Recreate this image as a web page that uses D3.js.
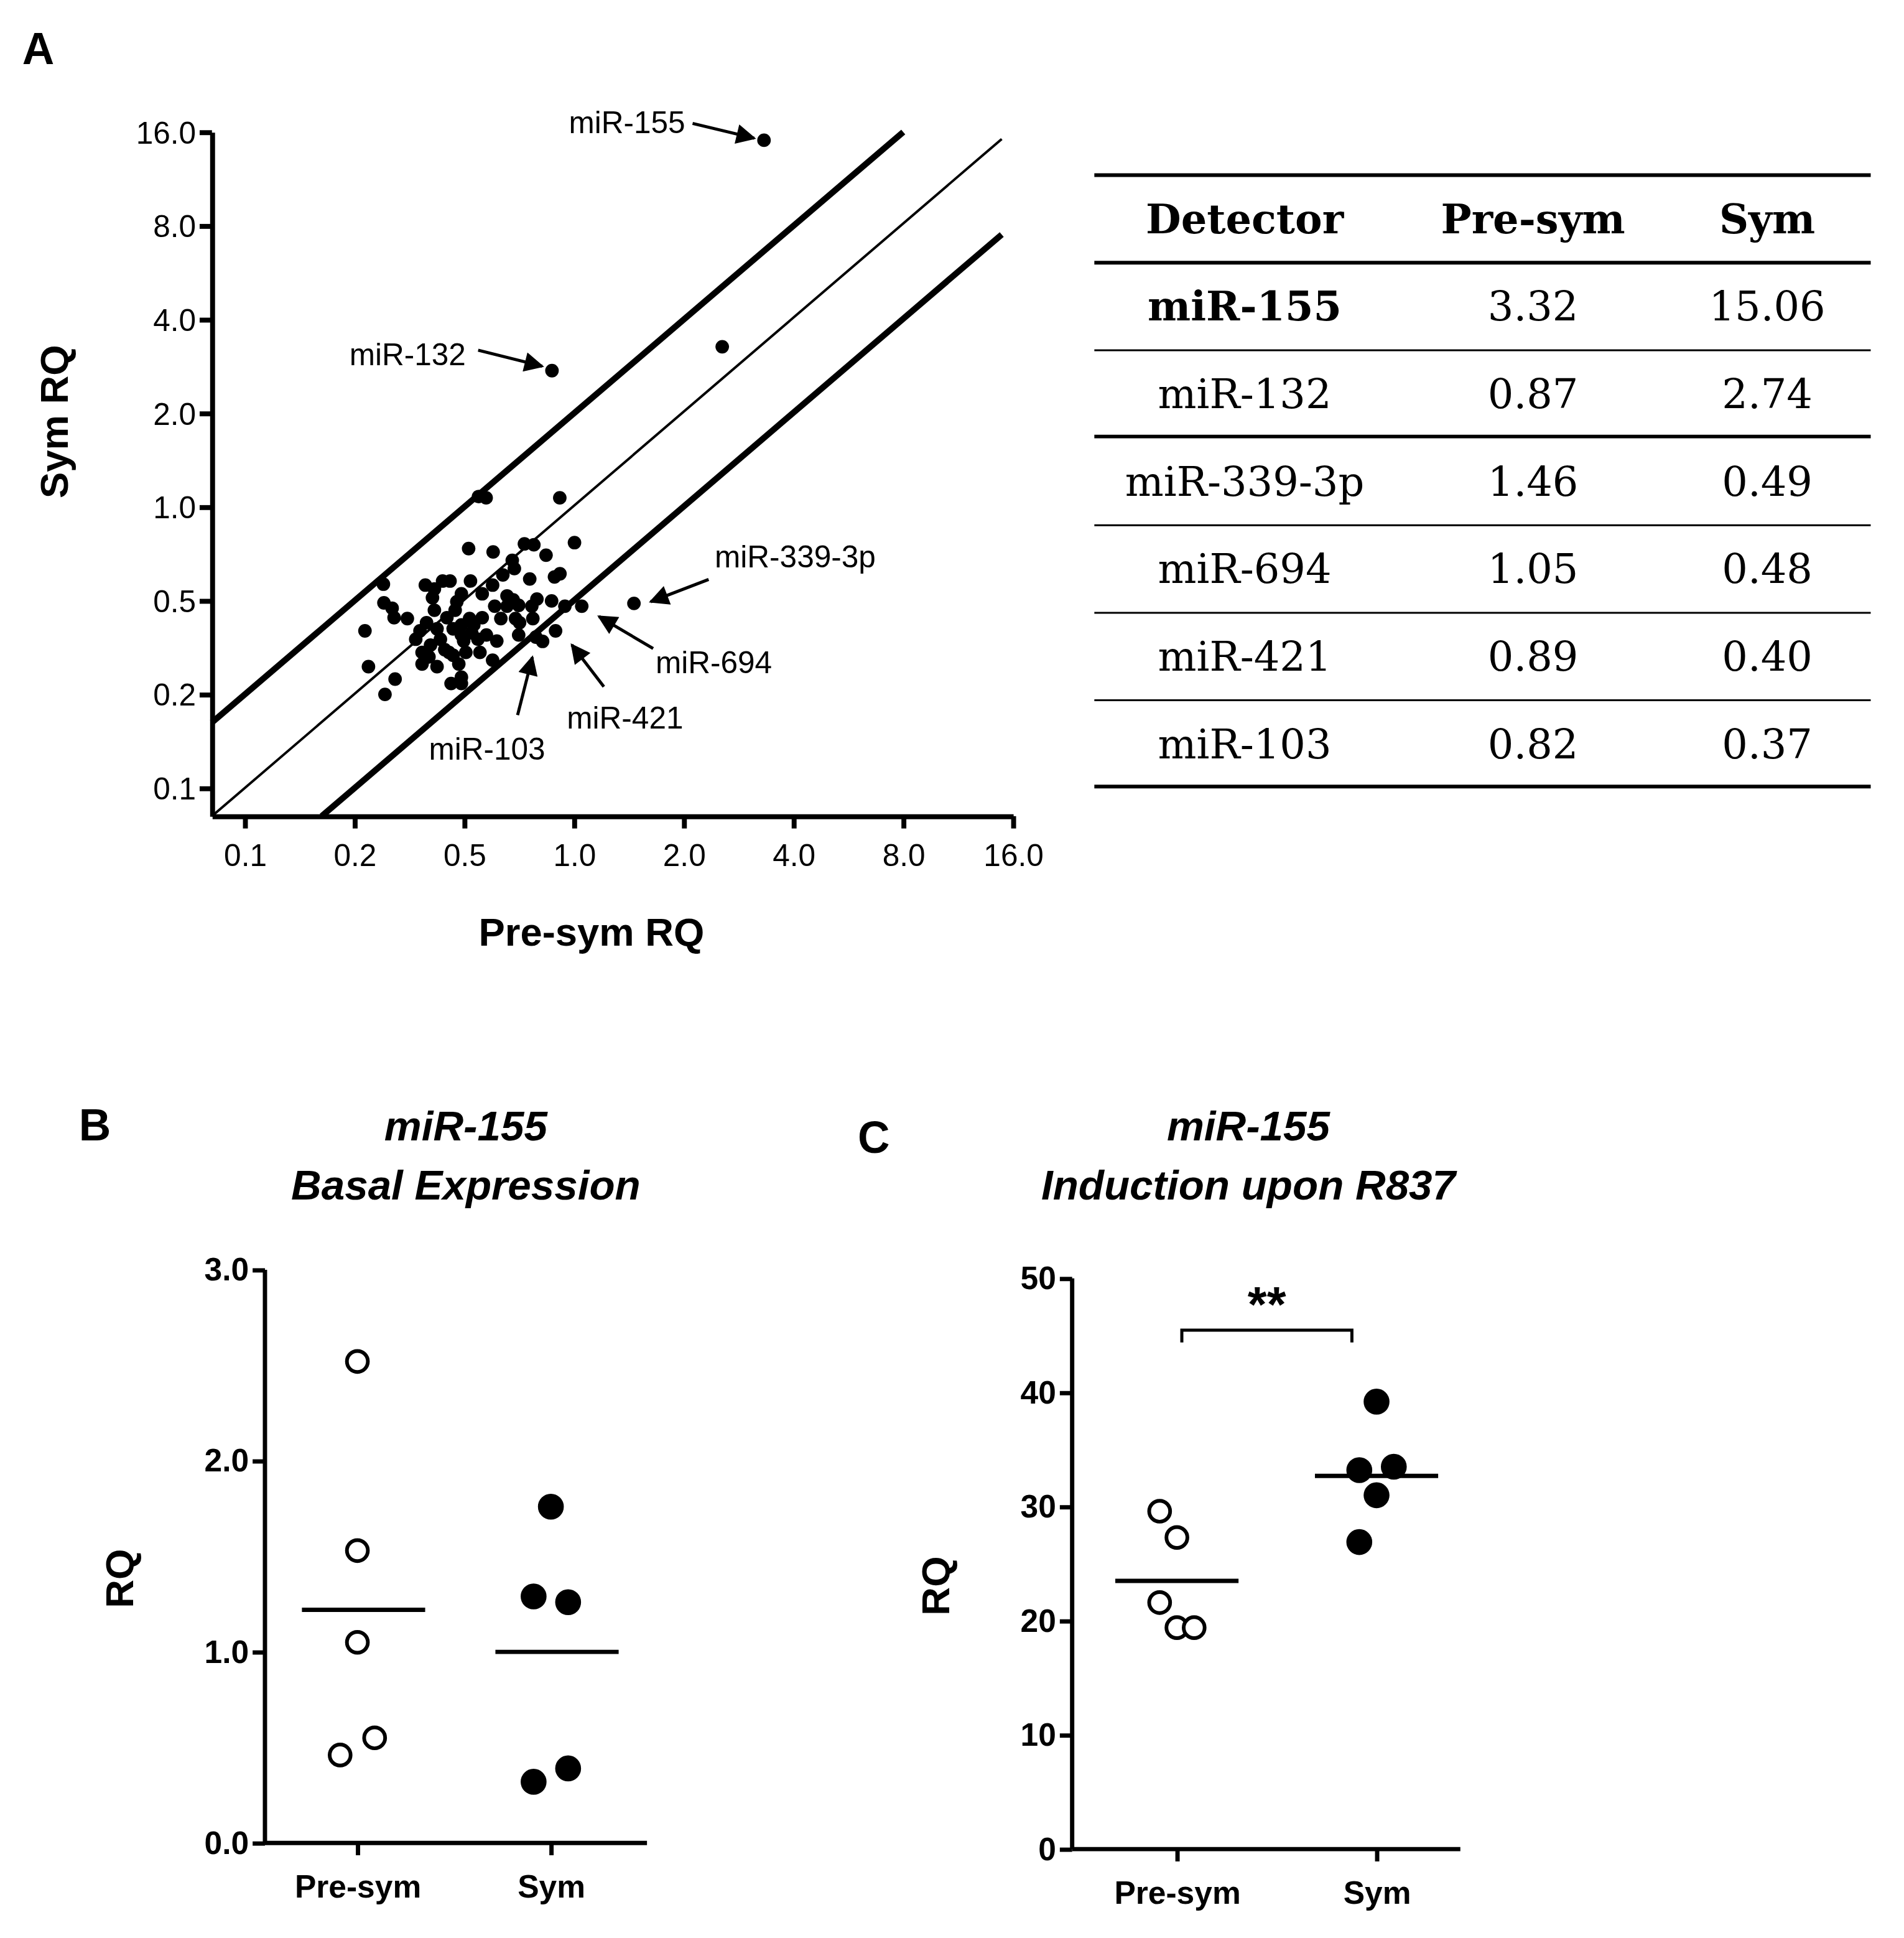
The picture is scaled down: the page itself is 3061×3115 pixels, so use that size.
<!DOCTYPE html>
<html><head><meta charset="utf-8">
<script src="https://cdn.jsdelivr.net/npm/d3@7"></script>
<style>body{margin:0;background:#fff}</style>
</head><body>
<div id="chart"></div>
<script>
// scatter of all detectors: [pre-sym RQ, sym RQ]
const scatterPoints = [
  [0.914,1.07],[0.300,0.565],[0.547,1.08],[0.574,1.07],[0.514,0.735],[0.600,0.717],[0.731,0.761],
  [0.776,0.756],[1.003,0.768],[0.838,0.700],[0.677,0.674],[0.686,0.634],[0.638,0.605],[0.884,0.596],
  [0.915,0.610],[0.756,0.587],[0.520,0.578],[0.598,0.561],[0.391,0.561],[0.436,0.578],[0.457,0.578],
  [0.491,0.526],[0.560,0.526],[0.409,0.511],[0.655,0.518],[0.681,0.503],[0.606,0.480],[0.705,0.483],
  [0.791,0.506],[0.868,0.499],[0.944,0.480],[0.301,0.492],[0.317,0.473],[0.321,0.441],[0.349,0.438],
  [0.267,0.400],[0.414,0.466],[0.472,0.466],[0.448,0.441],[0.517,0.438],[0.560,0.441],[0.630,0.438],
  [0.766,0.480],[0.771,0.438],[0.709,0.425],[0.394,0.425],[0.491,0.418],[0.421,0.406],[0.368,0.376],
  [0.466,0.406],[0.524,0.394],[0.575,0.388],[0.614,0.371],[0.491,0.388],[0.705,0.388],[0.786,0.382],
  [0.404,0.360],[0.394,0.334],[0.442,0.348],[0.498,0.371],[0.552,0.341],[0.598,0.322],[0.383,0.313],
  [0.421,0.307],[0.483,0.313],[0.491,0.284],[0.460,0.271],[0.491,0.271],[0.273,0.307],[0.323,0.280],
  [0.303,0.250],[0.378,0.400],[0.430,0.376],[0.454,0.341],[0.531,0.418],[0.691,0.438],[0.655,0.480],
  [0.414,0.545],[0.477,0.496],[0.400,0.330],[0.383,0.341],[0.466,0.334],[0.505,0.341],[0.545,0.376],
  [2.55,3.27]
]
const detectors = ['miR-155','miR-132','miR-339-3p','miR-694','miR-421','miR-103']
const preSym = [3.32,0.87,1.46,1.05,0.89,0.82]
const sym = [15.06,2.74,0.49,0.48,0.40,0.37]
const logTicks = [0.125,0.25,0.5,1,2,4,8,16]
const logTickLabels = ['0.1','0.2','0.5','1.0','2.0','4.0','8.0','16.0']

const groups = ['Pre-sym','Sym']
const basalPre = [2.52,1.53,1.05,0.46,0.55]
const basalSym = [1.76,1.29,1.26,0.32,0.39]
const basalMeans = [1.22,1.0]
const r837Pre = [29.6,27.3,21.6,19.4,19.4]
const r837Sym = [39.2,33.2,33.5,31.0,26.9]
const r837Means = [23.5,32.7]
// small sideways jitter of the dot columns, in dot widths
const offsB = [[0,0,0,-1,1],[0,-1,1,-1,1]]
const offsC = [[-1,0,-1,0,1],[0,-1,1,0,-1]]

const svg = d3.select('#chart').append('svg')
  .attr('width', 3061).attr('height', 3115)
  .attr('viewBox', '0 0 1545 1572')
  .style('font-family', 'Liberation Sans, Arial, sans-serif')

// ---- panel A
svg.append('text').text('A').attr('x', 18).attr('y', 52)
  .attr('font-size', 36).attr('font-weight', 'bold')

const x = d3.scaleLog().base(2).domain([0.1016, 16]).range([172, 822])
const y = d3.scaleLog().base(2).domain([0.1016, 16]).range([662, 107])

const gx = svg.append('g').attr('transform', 'translate(0,662)')
  .call(d3.axisBottom(x).tickValues(logTicks).tickFormat((d, i) => logTickLabels[i]).tickSize(10).tickSizeOuter(0))
gx.selectAll('text').attr('font-size', 25).attr('dy', '1.1em')
const gy = svg.append('g').attr('transform', 'translate(172,0)')
  .call(d3.axisLeft(y).tickValues(logTicks).tickFormat((d, i) => logTickLabels[i]).tickSize(10).tickSizeOuter(0))
gy.selectAll('text').attr('font-size', 25).attr('dy', '0.35em')
svg.selectAll('.domain, .tick line').attr('stroke', '#000').attr('stroke-width', 4)
gx.select('.domain').attr('stroke-width', 4)

const lineGen = d3.line().x(d => x(d[0])).y(d => y(d[1]))
svg.append('path').attr('d', lineGen([[0.1016,0.1016],[14.9,15.2]]))
  .attr('stroke', '#000').attr('stroke-width', 2).attr('fill', 'none')
svg.append('path').attr('d', lineGen([[0.1016,0.2032],[8,16]]))
  .attr('stroke', '#000').attr('stroke-width', 5).attr('fill', 'none')
svg.append('path').attr('d', lineGen([[0.2032,0.1016],[14.9,7.5]]))
  .attr('stroke', '#000').attr('stroke-width', 5).attr('fill', 'none')

const allPts = scatterPoints.concat(preSym.map((p, i) => [p, sym[i]]))
svg.selectAll('circle.pt').data(allPts).enter().append('circle').attr('class', 'pt')
  .attr('cx', d => x(d[0])).attr('cy', d => y(d[1])).attr('r', 5.5).attr('fill', '#000')

svg.append('defs').append('marker').attr('id', 'arr').attr('viewBox', '0 0 10 10')
  .attr('refX', 9).attr('refY', 5).attr('markerWidth', 7).attr('markerHeight', 7)
  .attr('markerUnits', 'userSpaceOnUse').attr('orient', 'auto')
  .append('path').attr('d', 'M0,0L10,5L0,10Z').attr('fill', '#000')
d3.select('#arr').attr('markerWidth', 20).attr('markerHeight', 16)

const labels = [
  {t: 'miR-155', tx: 556, ty: 108, a: 'end', from: [562,100], to: [612,112]},
  {t: 'miR-132', tx: 378, ty: 296, a: 'end', from: [388,284], to: [440,297]},
  {t: 'miR-339-3p', tx: 580, ty: 460, a: 'start', from: [575,470], to: [528,488]},
  {t: 'miR-694', tx: 532, ty: 546, a: 'start', from: [530,526], to: [486,500]},
  {t: 'miR-421', tx: 460, ty: 591, a: 'start', from: [490,557], to: [464,523]},
  {t: 'miR-103', tx: 348, ty: 616, a: 'start', from: [420,580], to: [432,533]}
]
labels.forEach(l => {
  svg.append('text').text(l.t).attr('x', l.tx).attr('y', l.ty)
    .attr('text-anchor', l.a).attr('font-size', 25)
  svg.append('line').attr('x1', l.from[0]).attr('y1', l.from[1]).attr('x2', l.to[0]).attr('y2', l.to[1])
    .attr('stroke', '#000').attr('stroke-width', 2.5).attr('marker-end', 'url(#arr)')
})
svg.append('text').text('Pre-sym RQ').attr('x', 480).attr('y', 767)
  .attr('text-anchor', 'middle').attr('font-size', 32).attr('font-weight', 'bold')
svg.append('text').text('Sym RQ').attr('transform', 'translate(55,342) rotate(-90)')
  .attr('text-anchor', 'middle').attr('font-size', 32).attr('font-weight', 'bold')

// ---- table
const tbl = svg.append('g').style('font-family', 'DejaVu Serif, Liberation Serif, serif')
const colX = [1010, 1244, 1434]
const rowY = d3.range(7).map(i => 177 + i * 71)
const rule = (yy, w) => tbl.append('line').attr('x1', 888).attr('x2', 1518)
  .attr('y1', yy).attr('y2', yy).attr('stroke', '#000').attr('stroke-width', w)
rule(142, 3); rule(213, 3); rule(284, 1.5); rule(354, 3); rule(426, 1.5); rule(497, 1.5); rule(568, 1.5); rule(638, 3)
const hdr = ['Detector', 'Pre-sym', 'Sym']
hdr.forEach((h, j) => tbl.append('text').text(h).attr('x', colX[j]).attr('y', rowY[0] + 12)
  .attr('text-anchor', 'middle').attr('font-size', 33).attr('font-weight', 'bold'))
detectors.forEach((d, i) => {
  const cells = [d, preSym[i].toFixed(2), sym[i].toFixed(2)]
  cells.forEach((c, j) => tbl.append('text').text(c).attr('x', colX[j]).attr('y', rowY[i + 1] + 12)
    .attr('text-anchor', 'middle').attr('font-size', 33)
    .attr('font-weight', i === 0 && j === 0 ? 'bold' : 'normal'))
})

// ---- dot plots B and C
function dotPanel(o) {
  const g = svg.append('g')
  const xs = d3.scalePoint().domain(groups).range(o.cats)
  const ys = d3.scaleLinear().domain([0, o.max]).range([o.y0, o.y1])
  const ax = g.append('g').attr('transform', `translate(0,${o.y0})`)
    .call(d3.axisBottom(xs).tickSize(10).tickSizeOuter(0))
  ax.select('.domain').attr('d', `M${o.x0},0H${o.x1}`)
  ax.selectAll('text').attr('font-size', 26).attr('font-weight', 'bold').attr('dy', '1.2em')
  const ay = g.append('g').attr('transform', `translate(${o.x0},0)`)
    .call(d3.axisLeft(ys).tickValues(o.ticks).tickSize(10).tickSizeOuter(0))
  ay.select('.domain').attr('d', `M0,${o.y0}V${o.y1}`)
  ay.selectAll('text').attr('font-size', 26).attr('font-weight', 'bold')
  g.selectAll('.domain, .tick line').attr('stroke', '#000').attr('stroke-width', 3.5)
  o.series.forEach((vals, k) => {
    g.selectAll(null).data(vals).enter().append('circle')
      .attr('cx', (d, i) => xs(groups[k]) + o.offs[k][i] * 14)
      .attr('cy', d => ys(d)).attr('r', k === 0 ? 8.5 : 9)
      .attr('fill', k === 0 ? '#fff' : '#000').attr('stroke', '#000').attr('stroke-width', 3)
    g.append('line').attr('x1', xs(groups[k]) - 50 + o.meanShift).attr('x2', xs(groups[k]) + 50 + o.meanShift)
      .attr('y1', ys(o.means[k])).attr('y2', ys(o.means[k])).attr('stroke', '#000').attr('stroke-width', 3.5)
  })
  g.append('text').text(o.letter).attr('x', o.lx).attr('y', o.ly).attr('font-size', 36).attr('font-weight', 'bold')
  o.title.forEach((t, i) => g.append('text').text(t).attr('x', o.tx).attr('y', 925 + i * 48)
    .attr('text-anchor', 'middle').attr('font-size', 34).attr('font-weight', 'bold').attr('font-style', 'italic'))
  g.append('text').text('RQ').attr('transform', `translate(${o.rx},${(o.y0 + o.y1) / 2 + 18}) rotate(-90)`)
    .attr('text-anchor', 'middle').attr('font-size', 32).attr('font-weight', 'bold')
  return {g, xs, ys}
}

dotPanel({cats: [290, 447], x0: 215, x1: 525, y0: 1495, y1: 1030, max: 3, ticks: [0,1,2,3],
  series: [basalPre, basalSym], means: basalMeans, offs: offsB, meanShift: 5,
  letter: 'B', lx: 64, ly: 925, title: ['miR-155', 'Basal Expression'], tx: 378, rx: 108})

const pc = dotPanel({cats: [955, 1117], x0: 870, x1: 1185, y0: 1500, y1: 1037, max: 50, ticks: [0,10,20,30,40,50],
  series: [r837Pre, r837Sym], means: r837Means, offs: offsC, meanShift: 0,
  letter: 'C', lx: 696, ly: 935, title: ['miR-155', 'Induction upon R837'], tx: 1013, rx: 770})
pc.g.append('path').attr('d', 'M959,1089V1079H1097V1089').attr('fill', 'none')
  .attr('stroke', '#000').attr('stroke-width', 2.5)
pc.g.append('text').text('**').attr('x', 1028).attr('y', 1072).attr('text-anchor', 'middle')
  .attr('font-size', 40).attr('font-weight', 'bold')
</script>
</body></html>
